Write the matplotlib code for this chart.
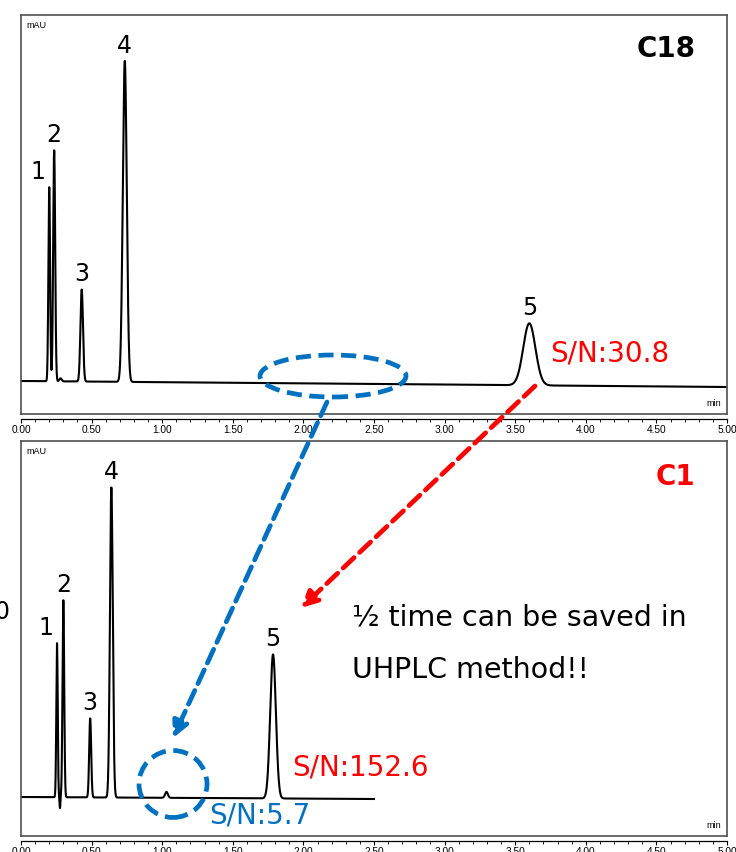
"""
C18 vs C1 chromatogram comparison (HPLC -> UHPLC method transfer).
"""

import matplotlib.pyplot as plt
import numpy as np
from matplotlib.patches import Ellipse, FancyArrowPatch

# Peak tables (time [min], height [mAU-ish], sigma [min]).
c18_times = [0.20, 0.235, 0.28, 0.43, 0.735, 3.60]
c18_heights = [194, 231, 3, 92, 321, 62]
c18_sigmas = [0.006, 0.007, 0.008, 0.009, 0.014, 0.043]
c18_labels = ["1", "2", "", "3", "4", "5"]
c18_baseline = [0.0, -6.0]  # baseline at t start / t end
c18_run = [0.0, 5.0]

c1_times = [0.255, 0.276, 0.30, 0.49, 0.64, 1.03, 1.785]
c1_heights = [154, -11, 197, 79, 310, 6, 144]
c1_sigmas = [0.005, 0.003, 0.006, 0.007, 0.010, 0.010, 0.020]
c1_labels = ["1", "", "2", "3", "4", "", "5"]
c1_baseline = [0.0, -2.0]
c1_run = [0.0, 2.5]

x_ticks = np.arange(0.0, 5.01, 0.5)
x_ticklabels = [f"{t:.2f}" for t in x_ticks]

W, H = 736, 852
BLUE = "#0070C0"
RED = "#FF0000"
FONT = "DejaVu Sans"


def fx(px):
    return px / W


def fy(py):
    return 1 - py / H


def trace(times, heights, sigmas, baseline, run):
    t = np.linspace(run[0], run[1], int((run[1] - run[0]) / 0.001) + 1)
    y = np.interp(t, run, baseline)
    for t0, h, s in zip(times, heights, sigmas):
        y += h * np.exp(-0.5 * ((t - t0) / s) ** 2)
    return t, y


def panel(rect, ylim, times, heights, sigmas, labels, baseline, run):
    ax = fig.add_axes(rect)
    t, y = trace(times, heights, sigmas, baseline, run)
    ax.plot(t, y, color="black", lw=1.5)
    ax.set_xlim(0, 5)
    ax.set_ylim(*ylim)
    ax.set_xticks([])
    ax.set_yticks([])
    for sp in ax.spines.values():
        sp.set_color("#505050")
        sp.set_linewidth(1.2)

    for t0, h, lab in zip(times, heights, labels):
        if not lab:
            continue
        dx = -8 if lab == "1" else 0
        ax.annotate(lab, (t0, h + np.interp(t0, run, baseline)),
                    xytext=(dx, 6), textcoords="offset points",
                    ha="center", va="baseline", fontsize=17, family=FONT)

    ax.text(0.008, 0.985, "mAU", transform=ax.transAxes, fontsize=6.5,
            va="top", ha="left", family="Liberation Sans")
    ax.text(0.992, 0.015, "min", transform=ax.transAxes, fontsize=6.5,
            va="bottom", ha="right", family="Liberation Sans")

    # Time axis drawn just below the frame.
    off = 5 / (rect[3] * H)
    sec = ax.secondary_xaxis(-off)
    sec.set_xticks(x_ticks, x_ticklabels)
    sec.set_xticks(np.arange(0, 5.01, 0.1), minor=True)
    sec.tick_params(which="major", direction="out", length=3, width=0.8,
                    pad=1.5, labelsize=7.3)
    sec.tick_params(which="minor", direction="out", length=2, width=0.6)
    sec.spines["bottom"].set_linewidth(0.9)
    for lbl in sec.get_xticklabels():
        lbl.set_family("Liberation Sans")
    return ax


fig = plt.figure(figsize=(W / 100, H / 100), dpi=100)

top_rect = [fx(21), fy(414), fx(727) - fx(21), fy(15) - fy(414)]
bot_rect = [fx(21), fy(836), fx(727) - fx(21), fy(441) - fy(836)]

ax_top = panel(top_rect, (-33, 366), c18_times, c18_heights, c18_sigmas,
               c18_labels, c18_baseline, c18_run)
ax_bot = panel(bot_rect, (-39, 356), c1_times, c1_heights, c1_sigmas,
               c1_labels, c1_baseline, c1_run)

ax_top.text(0.955, 0.915, "C18", transform=ax_top.transAxes, fontsize=20,
            fontweight="bold", ha="right", va="center", family=FONT)
ax_bot.text(0.955, 0.91, "C1", transform=ax_bot.transAxes, fontsize=20,
            fontweight="bold", ha="right", va="center", color=RED, family=FONT)

# Annotations (placed in figure pixels of the reference).
fig.text(fx(550), fy(354), "S/N:30.8", color=RED, fontsize=20,
         va="center", ha="left", family=FONT)
fig.text(fx(292), fy(768), "S/N:152.6", color=RED, fontsize=20,
         va="center", ha="left", family=FONT)
fig.text(fx(209), fy(815), "S/N:5.7", color=BLUE, fontsize=20,
         va="center", ha="left", family=FONT)
fig.text(fx(352), fy(617), "\u00bd time can be saved in", fontsize=20.5,
         va="center", ha="left", family=FONT)
fig.text(fx(352), fy(670), "UHPLC method!!", fontsize=20.5,
         va="center", ha="left", family=FONT)
fig.text(fx(-6), fy(612), "0", fontsize=17, va="center", ha="left",
         family=FONT)

dash = (0, (3.2, 1.6))
fig.add_artist(Ellipse((fx(333), fy(376)), fx(146), 42 / H,
                       transform=fig.transFigure, fill=False,
                       edgecolor=BLUE, lw=3.4, linestyle=dash))
fig.add_artist(Ellipse((fx(173), fy(784)), fx(68), 67 / H,
                       transform=fig.transFigure, fill=False,
                       edgecolor=BLUE, lw=3.4, linestyle=dash))

for start, end, col in [((327, 402), (173, 738), BLUE),
                        ((535, 386), (301, 608), RED)]:
    fig.add_artist(FancyArrowPatch(
        (fx(start[0]), fy(start[1])), (fx(end[0]), fy(end[1])),
        transform=fig.transFigure, arrowstyle="-|>", mutation_scale=24,
        color=col, lw=3.4, linestyle=dash, shrinkA=0, shrinkB=0))

fig.savefig("out.png", dpi=100)
